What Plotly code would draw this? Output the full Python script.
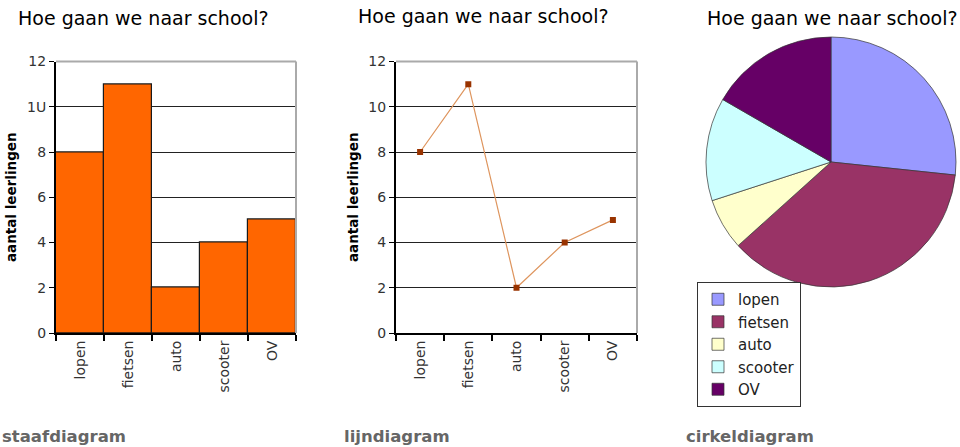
import plotly.graph_objects as go

categories = ["lopen", "fietsen", "auto", "scooter", "OV"]
values = [8, 11, 2, 4, 5]
y_ticks = [0, 2, 4, 6, 8, 10, 12]
bar_tick_text = ["0", "2", "4", "6", "8", "1U", "12"]
line_tick_text = ["0", "2", "4", "6", "8", "10", "12"]
pie_colors = ["#9999FF", "#993366", "#FFFFCC", "#CCFFFF", "#660066"]
title_text = "Hoe gaan we naar school?"
y_title = "aantal leerlingen"
captions = ["staafdiagram", "lijndiagram", "cirkeldiagram"]

FONT = "DejaVu Sans"
W, H = 960, 447

fig = go.Figure()

fig.add_trace(go.Bar(x=categories, y=values, xaxis="x", yaxis="y",
                     marker=dict(color="#FF6600", line=dict(color="#1a1a1a", width=1.2)),
                     showlegend=False))
fig.add_trace(go.Scatter(x=categories, y=values, xaxis="x2", yaxis="y2",
                         mode="lines+markers",
                         line=dict(color="#DE955E", width=1.2),
                         marker=dict(symbol="square", size=6, color="#993300"),
                         showlegend=False))
fig.add_trace(go.Pie(labels=categories, values=values, sort=False, direction="clockwise",
                     rotation=0, textinfo="none", hoverinfo="label+value",
                     marker=dict(colors=pie_colors, line=dict(color="#333333", width=0.7)),
                     domain=dict(x=[706 / W, 956 / W], y=[(H - 290) / H, (H - 34) / H]),
                     showlegend=True))

def yaxis_cfg(ticktext, anchor):
    return dict(range=[0, 12], tickvals=y_ticks, ticktext=ticktext,
                domain=[(H - 333) / H, (H - 61.5) / H], anchor=anchor,
                showline=True, linecolor="black", linewidth=2,
                ticks="outside", ticklen=5, tickcolor="black", tickwidth=1,
                showgrid=True, gridcolor="#222222", gridwidth=1, zeroline=False,
                tickfont=dict(family=FONT, size=14, color="#333333"),
                title=dict(text="<b>" + y_title + "</b>", standoff=7,
                           font=dict(family=FONT, size=13.5, color="black")),
                automargin=False, fixedrange=True)

def xaxis_cfg(x0, x1, anchor):
    return dict(domain=[x0 / W, x1 / W], anchor=anchor, type="category",
                range=[-0.5, 4.5], showline=True, linecolor="black", linewidth=2,
                ticks="outside", ticklen=6, tickcolor="black", tickwidth=2,
                tickson="boundaries", tickangle=-90, showgrid=False,
                tickfont=dict(family=FONT, size=14, color="#333333"),
                automargin=False, fixedrange=True)

fig.update_layout(
    width=W, height=H,
    margin=dict(l=0, r=0, t=0, b=0, autoexpand=False),
    paper_bgcolor="white", plot_bgcolor="white",
    bargap=0,
    xaxis=xaxis_cfg(56, 296, "y"),
    yaxis=yaxis_cfg(bar_tick_text, "x"),
    xaxis2=xaxis_cfg(396, 637, "y2"),
    yaxis2=yaxis_cfg(line_tick_text, "x2"),
    legend=dict(x=697 / W, y=(H - 282) / H, xanchor="left", yanchor="top",
                bordercolor="#333333", borderwidth=1, bgcolor="white",
                font=dict(family=FONT, size=15, color="#222222"),
                itemwidth=30, tracegroupgap=0),
    font=dict(family=FONT),
)

# gray top/right frame edges of the two plot areas
for xr, yr in (("x domain", "y domain"), ("x2 domain", "y2 domain")):
    fig.add_shape(type="line", xref=xr, yref=yr, x0=0, x1=1, y0=1, y1=1,
                  line=dict(color="#AAAAAA", width=2), layer="above")
    fig.add_shape(type="line", xref=xr, yref=yr, x0=1, x1=1, y0=0, y1=1,
                  line=dict(color="#AAAAAA", width=2), layer="above")

# titles
for cx, cy in ((143, 18), (483, 16), (832, 18)):
    fig.add_annotation(text=title_text, x=cx / W, y=(H - cy) / H, xref="paper", yref="paper",
                       xanchor="center", yanchor="middle", showarrow=False,
                       font=dict(family=FONT, size=19, color="black"))

# captions
for cx, txt in zip((0, 342, 684), captions):
    fig.add_annotation(text="<b>" + txt + "</b>", x=cx / W, y=(H - 436) / H,
                       xref="paper", yref="paper", xanchor="left", yanchor="middle",
                       showarrow=False, font=dict(family=FONT, size=16.5, color="#666666"))

fig.write_html("out.html")
